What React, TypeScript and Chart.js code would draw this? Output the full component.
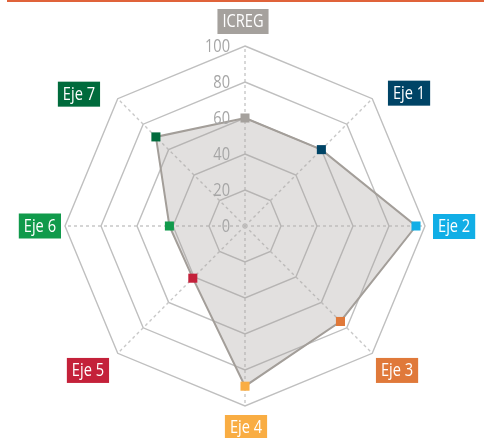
import React, { useEffect, useRef } from "react";
import { Chart, registerables } from "chart.js";

Chart.register(...registerables);

const categories = ["ICREG", "Eje 1", "Eje 2", "Eje 3", "Eje 4", "Eje 5", "Eje 6", "Eje 7"];
const values = [60, 60, 95, 75, 89, 41, 42, 70];
const categoryColors = ["#a5a19d", "#004466", "#11aee6", "#e0793a", "#f9ad43", "#c4213a", "#109a4b", "#006b3c"];
const tickValues = [0, 20, 40, 60, 80, 100];

const FONT = "'Open Sans', 'Noto Sans', sans-serif";
const FONT_SIZE = 19;
const SQUEEZE = 0.77; // horizontal condensing of the text

// fine adjustments of label boxes relative to the anchor rule [dx, dy]
const labelNudge: [number, number][] = [
  [-2, -4], [10, 12.6], [0, 0.5], [-2, -1], [1, 1], [-3, -1], [4, 0], [-12, 13.6],
];

function drawCondensed(ctx: CanvasRenderingContext2D, text: string, x: number, y: number, align: "left" | "right" | "center") {
  ctx.save();
  ctx.translate(x, y);
  ctx.scale(SQUEEZE, 1);
  ctx.textAlign = align;
  ctx.fillText(text, 0, 0);
  ctx.restore();
}

const overlayPlugin = {
  id: "overlay",
  beforeDraw(chart: any) {
    const ctx = chart.ctx;
    ctx.save();
    ctx.fillStyle = "#e0633a";
    ctx.fillRect(7, 0, chart.width - 7, 2);
    ctx.restore();
  },
  afterDraw(chart: any) {
    const ctx = chart.ctx as CanvasRenderingContext2D;
    const scale = chart.scales.r;
    ctx.save();
    ctx.font = `${FONT_SIZE}px ${FONT}`;
    ctx.textBaseline = "middle";
    // tick labels
    ctx.fillStyle = "#a6a6a6";
    tickValues.forEach((v) => {
      const d = scale.getDistanceFromCenterForValue(v);
      drawCondensed(ctx, String(v), scale.xCenter - 15, scale.yCenter - d + 0.5, "right");
    });
    // point labels with colored boxes
    const padX = 5;
    const h = 25;
    categories.forEach((label, i) => {
      const p = scale.getPointPosition(i, scale.drawingArea + 8);
      const w = ctx.measureText(label).width * SQUEEZE + padX * 2;
      const deg = (i * 360) / categories.length;
      let left: number;
      let top: number;
      if (deg === 0 || deg === 180) left = p.x - w / 2;
      else if (deg < 180) left = p.x;
      else left = p.x - w;
      if (deg === 90 || deg === 270) top = p.y - h / 2;
      else if (deg > 270 || deg < 90) top = p.y - h;
      else top = p.y;
      left += labelNudge[i][0];
      top += labelNudge[i][1];
      ctx.fillStyle = categoryColors[i];
      ctx.fillRect(left, top, w, h);
      ctx.fillStyle = "#ffffff";
      drawCondensed(ctx, label, left + w / 2, top + h / 2 + 0.5, "center");
    });
    ctx.restore();
  },
};

export default function App() {
  const ref = useRef<HTMLCanvasElement | null>(null);
  useEffect(() => {
    if (!ref.current) return;
    const chart = new Chart(ref.current, {
      type: "radar",
      data: {
        labels: categories,
        datasets: [
          {
            data: values,
            backgroundColor: "rgba(165,160,155,0.32)",
            borderColor: "#a39e99",
            borderWidth: 2,
            fill: true,
            pointStyle: "rect",
            pointRadius: 6.4,
            pointBorderWidth: 0,
            pointBackgroundColor: categoryColors,
            pointBorderColor: categoryColors,
          },
        ],
      },
      options: {
        responsive: false,
        animation: false,
        devicePixelRatio: 1,
        layout: { padding: { left: 65, right: 59, top: 46, bottom: 32 } },
        plugins: { legend: { display: false }, tooltip: { enabled: false } },
        scales: {
          r: {
            min: 0,
            max: 100,
            ticks: { stepSize: 20, display: false },
            grid: { color: "#bfbfbf", lineWidth: 1.4 },
            angleLines: { color: "#c8c8c8", lineWidth: 1.4, borderDash: [3, 3] },
            pointLabels: { display: false },
          },
        },
      },
      plugins: [overlayPlugin],
    });
    return () => chart.destroy();
  }, []);
  return (
    <div style={{ position: "fixed", left: 0, top: 0, width: 484, height: 438, background: "#fff" }}>
      <canvas ref={ref} width={484} height={438} style={{ width: 484, height: 438, display: "block" }} />
    </div>
  );
}
